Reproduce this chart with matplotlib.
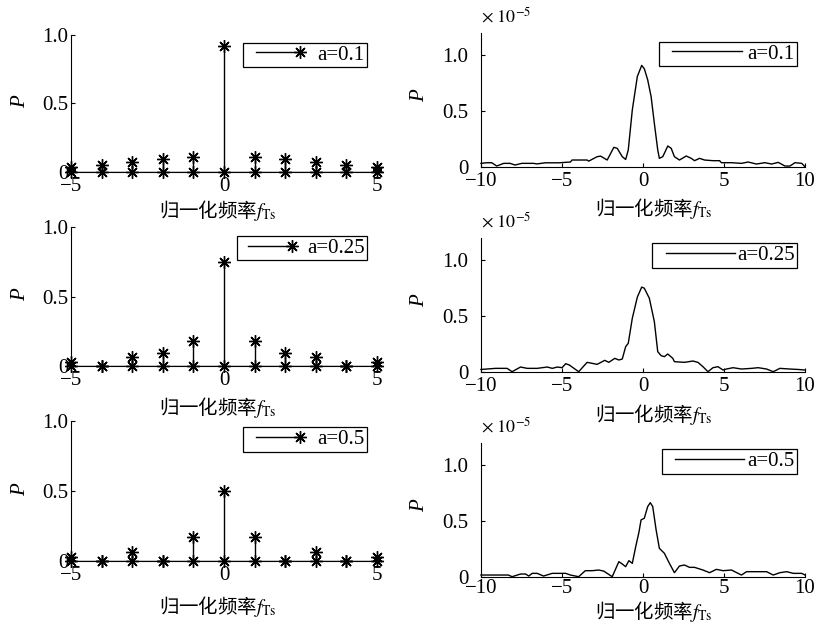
import numpy as np
import matplotlib
matplotlib.use("Agg")
import matplotlib.pyplot as plt
from matplotlib.lines import Line2D
from matplotlib.legend_handler import HandlerBase

# ---------------- data ----------------
# left column: discrete spectra (stem plots)
x_stem = [-5, -4, -3, -2, -1, 0, 1, 2, 3, 4, 5]
p_stem_a01 = [0.037, 0.05, 0.073, 0.093, 0.105, 0.92, 0.105, 0.09, 0.068, 0.046, 0.037]
p_stem_a025 = [0.03, 0.0, 0.065, 0.09, 0.18, 0.75, 0.18, 0.09, 0.065, 0.0, 0.03]
p_stem_a05 = [0.03, 0.0, 0.065, 0.0, 0.167, 0.5, 0.167, 0.0, 0.065, 0.0, 0.03]

# right column: continuous spectra, values in units of 1e-5
f_a01 = [-10, -9.7, -9.34, -9.03, -8.6, -8.2, -7.9, -7.48, -6.76, -6.55, -6.03, -5.2, -4.48,
         -4.38, -3.45, -3.35, -2.83, -2.62, -2.21, -1.80, -1.59, -1.28, -1.07, -0.91, -0.66,
         -0.35, -0.08, 0.08, 0.29, 0.5, 0.7, 0.91, 1.01, 1.22, 1.53, 1.74, 1.94, 2.25, 2.67,
         2.98, 3.18, 3.49, 3.80, 4.32, 4.73, 4.84, 5.46, 6.08, 6.49, 7.0, 7.52, 7.94, 8.35,
         8.76, 9.07, 9.38, 9.8, 10.0]
p_a01 = [0.03, 0.035, 0.036, 0.006, 0.03, 0.03, 0.015, 0.03, 0.03, 0.025, 0.035, 0.035, 0.042,
         0.06, 0.06, 0.05, 0.09, 0.095, 0.06, 0.174, 0.165, 0.09, 0.065, 0.15, 0.51,
         0.81, 0.91, 0.88, 0.78, 0.63, 0.39, 0.15, 0.075, 0.09, 0.186, 0.165, 0.09, 0.06, 0.096,
         0.075, 0.054, 0.075, 0.06, 0.054, 0.054, 0.036, 0.036, 0.03, 0.042, 0.024, 0.036, 0.024, 0.039,
         0.006, 0.006, 0.036, 0.03, 0.0]

f_a025 = [-10, -9.1, -8.39, -8.08, -7.56, -7.15, -6.53, -5.91, -5.6, -5.29, -5.0, -4.77, -4.55,
          -3.97, -3.45, -3.14, -2.83, -2.36, -2.11, -1.74, -1.49, -1.28, -1.07, -0.91, -0.66,
          -0.35, -0.08, 0.08, 0.39, 0.7, 0.91, 1.12, 1.32, 1.53, 1.84, 1.94, 2.56, 3.08, 3.39,
          3.70, 4.01, 4.32, 4.63, 4.94, 5.15, 5.56, 6.08, 6.7, 7.11, 7.63, 8.04, 8.45, 9.07,
          9.59, 10.0]
p_a025 = [0.02, 0.03, 0.03, 0.0, 0.042, 0.03, 0.03, 0.042, 0.03, 0.042, 0.036, 0.072, 0.06,
          0.0, 0.084, 0.075, 0.066, 0.102, 0.084, 0.12, 0.105, 0.114, 0.225, 0.255, 0.48,
          0.67, 0.76, 0.75, 0.66, 0.45, 0.18, 0.144, 0.135, 0.159, 0.12, 0.09, 0.084, 0.096, 0.084,
          0.045, 0.0, 0.036, 0.045, 0.015, 0.024, 0.036, 0.024, 0.03, 0.036, 0.024, 0.0, 0.03, 0.024,
          0.02, 0.015]

f_a05 = [-10, -9.1, -8.31, -8.08, -7.56, -7.25, -7.05, -6.84, -6.53, -6.14, -5.6, -4.77, -4.48,
         -3.97, -3.56, -3.14, -2.73, -2.42, -1.9, -1.49, -1.28, -1.07, -0.87, -0.66, -0.45,
         -0.25, -0.12, 0.08, 0.29, 0.45, 0.60, 0.81, 1.01, 1.32, 1.63, 1.94, 2.25, 2.56, 2.87,
         3.18, 3.70, 4.11, 4.53, 4.94, 5.46, 5.87, 6.08, 6.39, 7.01, 7.63, 8.04, 8.45, 8.87,
         9.28, 9.8, 10.0]
p_a05 = [0.015, 0.015, 0.015, 0.0, 0.024, 0.024, 0.006, 0.03, 0.03, 0.006, 0.03, 0.03, 0.015,
         0.0, 0.054, 0.054, 0.06, 0.05, 0.0, 0.135, 0.114, 0.09, 0.144, 0.12, 0.27,
         0.40, 0.51, 0.525, 0.63, 0.665, 0.63, 0.42, 0.255, 0.21, 0.12, 0.036, 0.096, 0.105, 0.084,
         0.084, 0.06, 0.036, 0.066, 0.054, 0.06, 0.03, 0.015, 0.045, 0.045, 0.045, 0.015, 0.036, 0.045,
         0.03, 0.03, 0.015]

labels = ["a=0.1", "a=0.25", "a=0.5"]
xlabel_text = r"归一化频率$f_{\mathrm{Ts}}$"
y_ticks = [0, 0.5, 1.0]
y_ticklabels = ["0", "0.5", "1.0"]

# ---------------- style ----------------
plt.rcParams["font.family"] = ["Liberation Serif", "DejaVu Serif"]
plt.rcParams["mathtext.fontset"] = "stix"
ASTER = (8, 2, 0)
FS = 15
CJK = ["Noto Sans CJK SC", "DejaVu Sans"]

W, H = 817, 624
fig = plt.figure(figsize=(W / 100, H / 100), dpi=100)


def rect(x0, x1, y0, ytop):
    return [x0 / W, (H - y0) / H, (x1 - x0) / W, (y0 - ytop) / H]


class LeadLineHandler(HandlerBase):
    def __init__(self, lead, marker=None, ms=8):
        super().__init__()
        self.lead = lead
        self.marker = marker
        self.ms = ms

    def create_artists(self, legend, orig_handle, xdescent, ydescent, width, height,
                       fontsize, trans):
        y = height / 2 - ydescent
        x0 = -xdescent + self.lead * fontsize
        x1 = -xdescent + width
        arts = [Line2D([x0, x1], [y, y], color="k", lw=1.0, transform=trans)]
        if self.marker is not None:
            arts.append(Line2D([x1], [y], marker=self.marker, ms=self.ms, mew=1.0,
                               color="k", ls="none", transform=trans))
        return arts


def style_axes(ax, xpad, ypad):
    for s in ("top", "right"):
        ax.spines[s].set_visible(False)
    for s in ("left", "bottom"):
        ax.spines[s].set_linewidth(0.8)
    ax.tick_params(direction="in", length=3, width=0.8, labelsize=FS, top=False, right=False)
    ax.tick_params(axis="x", pad=xpad)
    ax.tick_params(axis="y", pad=ypad)
    ax.set_yticks(y_ticks)
    ax.set_yticklabels(y_ticklabels)


# ---------------- left column ----------------
left_rows = [(171.7, 35.0), (365.7, 227.3), (560.7, 421.3)]
left_vals = [p_stem_a01, p_stem_a025, p_stem_a05]
left_leg = [  # anchor x, anchor y, lead, handlelength, handletextpad
    (0.949, 0.944, 0.51, 2.64, 0.82),
    (0.949, 0.939, 0.38, 2.50, 0.72),
    (0.949, 0.957, 0.51, 2.64, 0.82),
]
left_xlab_y = [-0.285, -0.305, -0.325]

for i in range(3):
    y0, yt = left_rows[i]
    ax = fig.add_axes(rect(71, 383, y0, yt))
    ml, sl, bl = ax.stem(x_stem, left_vals[i], linefmt="k-", markerfmt="k*", basefmt="k-")
    ml.set_marker(ASTER)
    ml.set_markersize(9)
    ml.set_markeredgewidth(1.0)
    ml.set_clip_on(False)
    sl.set_linewidth(1.0)
    bl.set_linewidth(1.0)
    ax.plot(x_stem, np.zeros(len(x_stem)), ls="none", marker=ASTER, ms=9, mew=1.0,
            color="k", clip_on=False)
    ax.set_xlim(-5, 5.2)
    ax.set_ylim(0, 1.0)
    ax.set_xticks([-5, 0, 5])
    style_axes(ax, 4, 2)
    ax.set_ylabel("P", fontstyle="italic", fontsize=FS)
    ax.yaxis.set_label_coords(-0.131, 0.51)
    ax.set_xlabel(xlabel_text, fontsize=14, family=CJK, va="center")
    ax.xaxis.set_label_coords(0.47, left_xlab_y[i])
    fx, fy, lead, hl, htp = left_leg[i]
    leg = ax.legend([ml], [labels[i]],
                    handler_map={ml: LeadLineHandler(lead, ASTER, 9)},
                    loc="upper right", bbox_to_anchor=(fx, fy), borderaxespad=0,
                    frameon=True, fancybox=False, edgecolor="k", framealpha=1,
                    borderpad=0.12, handlelength=hl, handletextpad=htp, fontsize=FS)
    leg.get_frame().set_linewidth(0.9)

# ---------------- right column ----------------
right_rows = [(166.7, 33.1), (371.7, 238.1), (576.7, 443.1)]
right_f = [f_a01, f_a025, f_a05]
right_p = [p_a01, p_a025, p_a05]
right_leg = [
    (0.975, 0.936, 0.53, 3.90, 0.24),
    (0.975, 0.963, 0.56, 3.85, 0.10),
    (0.975, 0.956, 0.51, 3.83, 0.16),
]
right_xlab_y = [-0.31, -0.32, -0.258]
right_xpad = [4, 4, 2]

for i in range(3):
    y0, yt = right_rows[i]
    ax = fig.add_axes(rect(481, 805, y0, yt))
    (ln,) = ax.plot(right_f[i], right_p[i], color="k", lw=1.0, clip_on=False)
    ax.set_xlim(-10, 10)
    ax.set_ylim(0, 1.2)
    ax.set_xticks([-10, -5, 0, 5, 10])
    style_axes(ax, right_xpad[i], 9)
    ax.set_ylabel("P", fontstyle="italic", fontsize=FS)
    ax.yaxis.set_label_coords(-0.16, 0.53)
    ax.set_xlabel(xlabel_text, fontsize=14, family=CJK, va="center")
    ax.xaxis.set_label_coords(0.534, right_xlab_y[i])
    ax.annotate(r"$\times\ 10^{-5}$", xy=(0, 1), xycoords="axes fraction",
                xytext=(0, 5), textcoords="offset points", ha="left", va="bottom",
                fontsize=13)
    fx, fy, lead, hl, htp = right_leg[i]
    leg = ax.legend([ln], [labels[i]],
                    handler_map={ln: LeadLineHandler(lead)},
                    loc="upper right", bbox_to_anchor=(fx, fy), borderaxespad=0,
                    frameon=True, fancybox=False, edgecolor="k", framealpha=1,
                    borderpad=0.12, handlelength=hl, handletextpad=htp, fontsize=FS)
    leg.get_frame().set_linewidth(0.9)

fig.savefig("out.png", dpi=100)
